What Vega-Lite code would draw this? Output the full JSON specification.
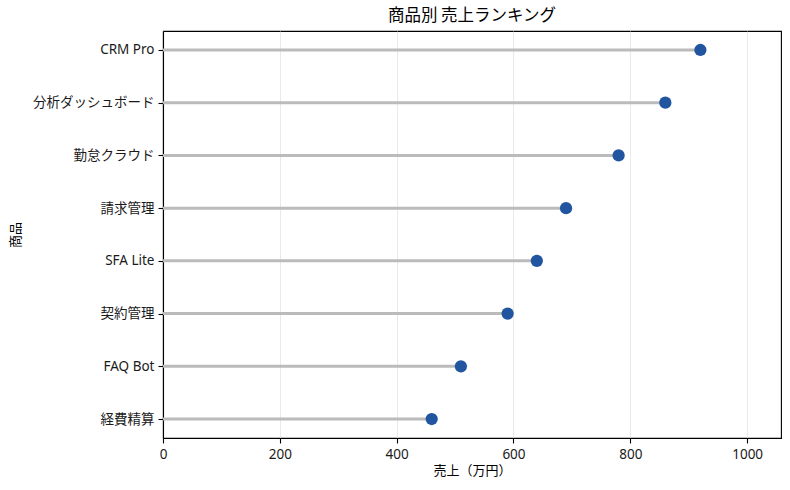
{
  "$schema": "https://vega.github.io/schema/vega-lite/v6.json",
  "autosize": {"type": "none"},
  "width": 618,
  "height": 407,
  "padding": {"left": 163, "top": 31, "right": 9, "bottom": 52},
  "background": "white",
  "title": {
    "text": "商品別 売上ランキング",
    "font": "Noto Sans CJK JP",
    "fontSize": 16.5,
    "fontWeight": "normal",
    "color": "#000000",
    "offset": 7
  },
  "data": {
    "values": [
      {"product": "CRM Pro", "sales": 920},
      {"product": "分析ダッシュボード", "sales": 860},
      {"product": "勤怠クラウド", "sales": 780},
      {"product": "請求管理", "sales": 690},
      {"product": "SFA Lite", "sales": 640},
      {"product": "契約管理", "sales": 590},
      {"product": "FAQ Bot", "sales": 510},
      {"product": "経費精算", "sales": 460}
    ]
  },
  "encoding": {
    "y": {
      "field": "product",
      "type": "nominal",
      "sort": ["CRM Pro", "分析ダッシュボード", "勤怠クラウド", "請求管理", "SFA Lite", "契約管理", "FAQ Bot", "経費精算"],
      "scale": {"type": "point", "padding": 0.36},
      "title": "商品",
      "axis": {"grid": false, "titlePadding": 10}
    },
    "x": {
      "field": "sales",
      "type": "quantitative",
      "scale": {"domain": [0, 1058], "nice": false},
      "title": "売上（万円）",
      "axis": {"values": [0, 200, 400, 600, 800, 1000], "format": "d", "grid": true}
    }
  },
  "layer": [
    {
      "mark": {"type": "rule", "color": "#bbbbbb", "strokeWidth": 3},
      "encoding": {
        "x2": {"datum": 0}
      }
    },
    {
      "mark": {"type": "point", "filled": true, "shape": "circle", "size": 150, "color": "#2155a0", "opacity": 1},
      "encoding": {}
    }
  ],
  "config": {
    "font": "Noto Sans CJK JP",
    "view": {"stroke": "#000000", "strokeWidth": 1.1},
    "axis": {
      "domainColor": "#000000",
      "domainWidth": 1.1,
      "tickColor": "#000000",
      "tickSize": 5,
      "tickWidth": 1.1,
      "labelFont": "Noto Sans, Noto Sans CJK JP",
      "labelFontSize": 13.5,
      "labelColor": "#1a1a1a",
      "labelPadding": 4,
      "titleFont": "Noto Sans CJK JP",
      "titleFontSize": 13,
      "titleFontWeight": "normal",
      "titleColor": "#000000",
      "gridColor": "#e3e3e3",
      "gridWidth": 0.8
    },
    "axisX": {"titlePadding": 4, "labelFlush": false}
  }
}
